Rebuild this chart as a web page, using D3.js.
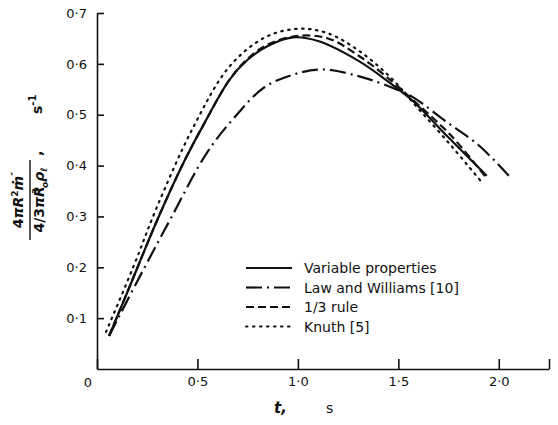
<!DOCTYPE html>
<html>
<head>
    <meta charset="utf-8">
    <title>Evaporation rate vs time</title>
    <style>
        body { margin: 0; background: #fff; }
        text { font-family: "DejaVu Sans", sans-serif; fill: #111; }
        .axis path, .axis line { stroke: #111; stroke-width: 1.6px; fill: none; }
        .curve { fill: none; stroke: #111; stroke-width: 2.2px; }
    </style>
</head>
<body>
    <div class="viz"></div>
    <script src="https://cdnjs.cloudflare.com/ajax/libs/d3/7.8.5/d3.min.js"></script>
    <script>
        // values (t in s, rate in 1/s)
        var varT  = [0.06, 0.15, 0.30, 0.43, 0.53, 0.66, 0.75, 0.85, 0.975, 1.10, 1.31, 1.47, 1.57, 1.75, 1.94];
        var varV  = [0.065, 0.15, 0.293, 0.405, 0.48, 0.569, 0.608, 0.635, 0.652, 0.645, 0.604, 0.559, 0.528, 0.455, 0.38];

        var lawT  = [0.06, 0.20, 0.363, 0.547, 0.687, 0.83, 0.97, 1.12, 1.31, 1.47, 1.57, 1.74, 1.90, 2.05];
        var lawV  = [0.065, 0.172, 0.293, 0.425, 0.496, 0.553, 0.578, 0.589, 0.575, 0.553, 0.535, 0.486, 0.44, 0.38];

        var ruleT = [0.06, 0.15, 0.30, 0.43, 0.53, 0.66, 0.75, 0.85, 1.00, 1.15, 1.31, 1.47, 1.57, 1.76, 1.94];
        var ruleV = [0.065, 0.15, 0.293, 0.405, 0.48, 0.569, 0.61, 0.638, 0.655, 0.65, 0.614, 0.565, 0.53, 0.46, 0.375];

        var knuT  = [0.045, 0.18, 0.30, 0.48, 0.66, 0.836, 1.00, 1.15, 1.31, 1.47, 1.57, 1.75, 1.92];
        var knuV  = [0.073, 0.20, 0.32, 0.476, 0.595, 0.652, 0.669, 0.66, 0.624, 0.57, 0.525, 0.445, 0.365];

        var seriesNames = ["Variable properties", "Law and Williams [10]", "1/3 rule", "Knuth [5]"];
        var xTicks = [0, 0.5, 1.0, 1.5, 2.0, 2.25];
        var xTickLabels = ["", "0·5", "1·0", "1·5", "2·0", ""];
        var yTicks = [0.1, 0.2, 0.3, 0.4, 0.5, 0.6, 0.7];
        var yTickLabels = ["0·1", "0·2", "0·3", "0·4", "0·5", "0·6", "0·7"];

        var width = 558, height = 425;
        var dashes = [null, "16,5,2,5", "8,4", "1.5,5.5"];

        var svg = d3.select('.viz').append('svg')
            .attr('width', width)
            .attr('height', height);

        var x = d3.scaleLinear().domain([0, 2.25]).range([97, 549]);
        var y = d3.scaleLinear().domain([0, 0.7]).range([369, 13]);

        var xAxis = svg.append("g")
            .attr("class", "axis")
            .attr("transform", "translate(0," + y(0) + ")")
            .call(d3.axisBottom(x).tickValues(xTicks).tickSize(-10).tickSizeOuter(0)
                .tickFormat(function (d, i) { return xTickLabels[i]; }));
        xAxis.selectAll("text").attr("y", 8).attr("font-size", "13px")
            .attr("font-family", "DejaVu Sans, sans-serif").attr("fill", "#111");

        var yAxis = svg.append("g")
            .attr("class", "axis")
            .attr("transform", "translate(" + x(0) + ",0)")
            .call(d3.axisLeft(y).tickValues(yTicks).tickSize(-7).tickSizeOuter(0)
                .tickFormat(function (d, i) { return yTickLabels[i]; }));
        yAxis.selectAll("text").attr("x", -10).attr("font-size", "13px")
            .attr("font-family", "DejaVu Sans, sans-serif").attr("fill", "#111");

        // origin label
        svg.append("text")
            .attr("x", x(0) - 9).attr("y", y(0) + 18)
            .attr("text-anchor", "middle")
            .attr("font-size", "13px")
            .text("0");

        var line = d3.line()
            .x(function (d) { return x(d[0]); })
            .y(function (d) { return y(d[1]); })
            .curve(d3.curveCatmullRom.alpha(0.5));

        var allSeries = [
            d3.zip(varT, varV),
            d3.zip(lawT, lawV),
            d3.zip(ruleT, ruleV),
            d3.zip(knuT, knuV)
        ];

        svg.selectAll(".curve")
            .data(allSeries)
            .enter().append("path")
            .attr("class", "curve")
            .attr("d", line)
            .attr("stroke-dasharray", function (d, i) { return dashes[i]; })
            .attr("stroke-linecap", function (d, i) { return i === 3 ? "round" : "butt"; })
            .attr("stroke-width", function (d, i) { return i === 3 ? 2.4 : 2.2; });

        // legend
        var legend = svg.append("g")
            .selectAll(".legend")
            .data(seriesNames)
            .enter().append("g")
            .attr("transform", function (d, i) { return "translate(246," + (268 + i * 19.5) + ")"; });

        legend.append("line")
            .attr("x1", 0).attr("x2", 46)
            .attr("y1", 0).attr("y2", 0)
            .attr("stroke", "#111")
            .attr("stroke-width", function (d, i) { return i === 3 ? 2 : 2.2; })
            .attr("stroke-linecap", function (d, i) { return i === 3 ? "round" : "butt"; })
            .attr("stroke-dasharray", function (d, i) { return dashes[i]; });

        legend.append("text")
            .attr("x", 58).attr("y", 5)
            .attr("font-size", "14px")
            .text(function (d) { return d; });

        // y label: rotated fraction
        var yl = svg.append("g").attr("transform", "translate(30,200) rotate(-90)");
        var num = yl.append("text").attr("x", 0).attr("y", -7)
            .attr("text-anchor", "middle").attr("font-size", "14px").attr("font-weight", "bold");
        num.append("tspan").text("4");
        num.append("tspan").attr("font-style", "italic").text("πR");
        num.append("tspan").attr("dy", -5).attr("font-size", "9px").text("2");
        num.append("tspan").attr("dy", 5).attr("font-style", "italic").text("ṁ");
        num.append("tspan").attr("dy", -5).attr("font-size", "9px").text("″");
        yl.append("line")
            .attr("x1", -40).attr("x2", 40)
            .attr("y1", 0).attr("y2", 0)
            .attr("stroke", "#111").attr("stroke-width", 1.4);
        var den = yl.append("text").attr("x", 0).attr("y", 14)
            .attr("text-anchor", "middle").attr("font-size", "14px").attr("font-weight", "bold");
        den.append("tspan").text("4/3");
        den.append("tspan").attr("font-style", "italic").text("πR");
        den.append("tspan").attr("dx", -8).attr("dy", -5).attr("font-size", "9px").text("3");
        den.append("tspan").attr("dy", 9).attr("font-size", "9px").attr("font-style", "italic").text("o");
        den.append("tspan").attr("dy", -4).attr("font-style", "italic").text("ρ");
        den.append("tspan").attr("dy", 3).attr("font-size", "9px").attr("font-style", "italic").text("ℓ");
        yl.append("text").attr("x", 44).attr("y", 12).attr("font-size", "14px")
            .attr("font-weight", "bold").text(",");
        var su = yl.append("text").attr("x", 86).attr("y", 12)
            .attr("font-size", "14px").attr("font-weight", "bold");
        su.append("tspan").text("s");
        su.append("tspan").attr("dy", -6).attr("font-size", "10px").text("-1");

        // x label
        svg.append("text")
            .attr("x", 274).attr("y", 413)
            .attr("font-size", "15px").attr("font-style", "italic").attr("font-weight", "bold")
            .text("t,");
        svg.append("text")
            .attr("x", 326).attr("y", 413)
            .attr("font-size", "14px")
            .text("s");
    </script>
</body>
</html>
